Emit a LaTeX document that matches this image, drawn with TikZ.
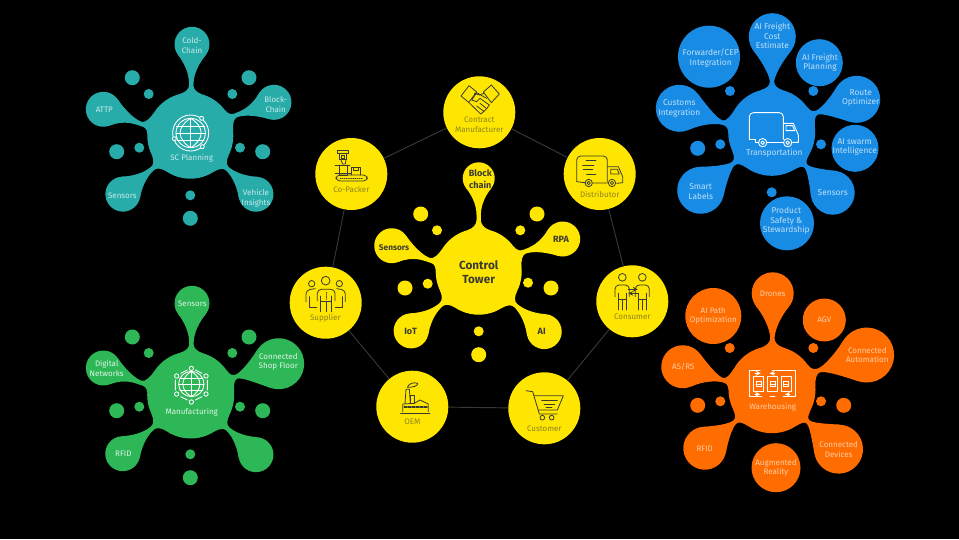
\documentclass[tikz,border=0pt]{standalone}
\usepackage{fontspec}
\setmainfont{Fira Sans}
\definecolor{ey}{HTML}{FFE600}
\definecolor{tealc}{HTML}{27ACAA}
\definecolor{greenc}{HTML}{2DB757}
\definecolor{bluec}{HTML}{188CE5}
\definecolor{orangec}{HTML}{FF6D00}
\definecolor{ink}{HTML}{3A3A32}
\definecolor{ringt}{HTML}{8C8420}
\newcommand{\arm}[8][0]{%
  \pgfmathsetmacro{\armang}{atan2(-(#7-#4),#6-#3)}%
  \pgfmathsetmacro{\armd}{veclen(#6-#3,#7-#4)}%
  \pgfmathsetmacro{\armgap}{\armd-#5-#8}%
  \pgfmathsetmacro{\sxx}{#5*cos(15)}%
  \pgfmathsetmacro{\syy}{#5*sin(15)}%
  \pgfmathsetmacro{\wxx}{#5+0.24*\armgap}%
  \pgfmathsetmacro{\pxx}{\armd+#8*cos(128)}%
  \pgfmathsetmacro{\pyy}{#8*sin(128)}%
  \pgfmathsetmacro{\sk}{0.55*\armgap}%
  \pgfmathsetmacro{\kk}{0.2*\armgap}%
  \begin{scope}[shift={(#3,#4)},rotate=\armang]
    \fill[#2] (\sxx,\syy) .. controls (\sxx+2,\syy-6) and (\wxx-3.5,#1+2.2) .. (\wxx,#1+2.2)
      .. controls (\wxx+\kk,#1+2.2) and (\pxx-.788*\sk,\pyy-.616*\sk) .. (\pxx,\pyy)
      -- (\pxx,-\pyy)
      .. controls (\pxx-.788*\sk,-\pyy+.616*\sk) and (\wxx+\kk,#1-2.2) .. (\wxx,#1-2.2)
      .. controls (\wxx-3.5,#1-2.2) and (\sxx+2,-\syy+6) .. (\sxx,-\syy) -- cycle;
    \fill[#2] (\armd,0) circle[radius=#8];
  \end{scope}}
\newcommand{\blobdot}[4]{\fill[#1] (#2,#3) circle[radius=#4];}
\tikzset{
  ringnode/.style={circle,fill=ey,draw=none,minimum size=54pt,inner sep=0pt},
  ringline/.style={draw=white!22!black,line width=.7pt},
  ringtxt/.style={text=ringt,font=\fontsize{6}{7.2}\selectfont,align=center,inner sep=0pt},
  tealtxt/.style={text=white!75!tealc,font=\fontsize{6}{7.2}\selectfont,align=center,inner sep=0pt},
  greentxt/.style={text=white!85!greenc,font=\fontsize{6}{7.2}\selectfont,align=center,inner sep=0pt},
  bluetxt/.style={text=white!72!bluec,font=\fontsize{6.3}{7.2}\selectfont,align=center,inner sep=0pt},
  orangetxt/.style={text=white!65!orangec,font=\fontsize{6}{7.2}\selectfont,align=center,inner sep=0pt},
  yellowtxt/.style={text=ink,font=\fontsize{6.8}{9}\selectfont\bfseries,align=center,inner sep=0pt},
  towertxt/.style={text=ink,font=\fontsize{8.8}{11}\selectfont\bfseries,align=center,inner sep=0pt},
  iconink/.style={draw=ink,line width=.6pt,line join=round,line cap=round},
  iconwhite/.style={draw=white,line width=.65pt,line join=round,line cap=round},
  zoomgrid/.style={x=.25pt,y=-.25pt},
}
\begin{document}
\begin{tikzpicture}[x=.75pt,y=-.75pt]
\useasboundingbox (0,0) rectangle (959,539);
\fill[black] (0,0) rectangle (959,539);

% ---- ring of partners
\node[ringnode] (contract) at (479.3,112.3) {};
\node[ringnode] (copacker) at (351.3,174) {};
\node[ringnode] (distributor) at (599.7,174) {};
\node[ringnode] (supplier) at (325.7,302.7) {};
\node[ringnode] (consumer) at (632.3,301.3) {};
\node[ringnode] (oem) at (412.3,406.7) {};
\node[ringnode] (customer) at (544.3,408.3) {};
\draw[ringline] (contract) -- (distributor);
\draw[ringline] (distributor) -- (consumer);
\draw[ringline] (consumer) -- (customer);
\draw[ringline] (customer) -- (oem);
\draw[ringline] (oem) -- (supplier);
\draw[ringline] (supplier) -- (copacker);
\draw[ringline] (copacker) -- (contract);

\node[ringtxt] (tcontract) at (479.3,125) {Contract\\Manufacturer};
\node[ringtxt] (tcopacker) at (351.3,189.3) {Co-Packer};
\node[ringtxt] (tdistributor) at (599.7,194) {Distributor};
\node[ringtxt] (tsupplier) at (325.3,318.7) {Supplier};
\node[ringtxt] (tconsumer) at (632.3,317) {Consumer};
\node[ringtxt] (toem) at (412.3,422) {OEM};
\node[ringtxt] (tcustomer) at (544.3,428.3) {Customer};

% ---- control tower blob
\arm{ey}{478.7}{271.7}{43}{478.7}{178.3}{16}
\arm[-3]{ey}{478.7}{271.7}{43}{391.7}{245.7}{17.5}
\arm[-2]{ey}{478.7}{271.7}{43}{562.7}{239}{17.5}
\arm{ey}{478.7}{271.7}{43}{411}{331}{17.5}
\arm{ey}{478.7}{271.7}{43}{544.3}{331.7}{17.5}
\fill[ey] (478.7,271.7) circle[radius=43];
\blobdot{ey}{420.7}{214}{7.5}\blobdot{ey}{437}{230.3}{5}
\blobdot{ey}{537}{214}{7.5}\blobdot{ey}{520.3}{230.3}{5}
\blobdot{ey}{405}{288}{7.5}\blobdot{ey}{427.7}{283.7}{5}
\blobdot{ey}{551}{288}{7.5}\blobdot{ey}{528}{282.7}{5}
\blobdot{ey}{478.7}{331.3}{5}\blobdot{ey}{478.7}{354.7}{7.5}
\node[towertxt] (ttower) at (478.7,272) {Control\\Tower};
\node[yellowtxt] (ty1) at (480.3,179.3) {Block\\chain};
\node[yellowtxt,font=\fontsize{6.2}{9}\selectfont\bfseries] (ty2) at (394,247.7) {Sensors};
\node[yellowtxt] (ty3) at (561,239.7) {RPA};
\node[yellowtxt] (ty4) at (410.7,331) {IoT};
\node[yellowtxt] (ty5) at (541.7,331.7) {AI};

% ---- SC planning blob
\arm{tealc}{190.3}{135.7}{43}{192}{44.3}{17.5}
\arm[-3]{tealc}{190.3}{135.7}{43}{103.3}{109.3}{17.5}
\arm[-2]{tealc}{190.3}{135.7}{43}{274}{102.3}{17.5}
\arm{tealc}{190.3}{135.7}{43}{122.7}{194.3}{17.5}
\arm{tealc}{190.3}{135.7}{43}{256}{194.3}{17.5}
\fill[tealc] (190.3,135.7) circle[radius=43];
\blobdot{tealc}{132.3}{77.7}{7.5}\blobdot{tealc}{148.7}{94}{5}
\blobdot{tealc}{249}{77.7}{7.5}\blobdot{tealc}{232.3}{94}{5}
\blobdot{tealc}{116.7}{151.7}{7.5}\blobdot{tealc}{139.3}{147.7}{5}
\blobdot{tealc}{262.7}{151.7}{7.5}\blobdot{tealc}{240}{147.7}{5}
\blobdot{tealc}{190.3}{195.3}{5}\blobdot{tealc}{190.3}{218.3}{7.5}
\node[tealtxt] (tt1) at (192,45.3) {Cold-\\Chain};
\node[tealtxt] (tt2) at (104.3,110) {ATTP};
\node[tealtxt] (tt3) at (275.7,104.3) {Block-\\Chain};
\node[tealtxt] (tt4) at (122.3,196) {Sensors};
\node[tealtxt] (tt5) at (256,198.3) {Vehicle\\Insights};
\node[tealtxt] (tt6) at (191.7,158.7) {SC Planning};

% ---- manufacturing blob
\arm{greenc}{190.7}{395}{43.5}{192}{303.3}{17.5}
\arm[-3]{greenc}{190.7}{395}{43.5}{103.3}{368}{17.5}
\arm[-2]{greenc}{190.7}{395}{43.5}{278.7}{363.7}{25.5}
\arm{greenc}{190.7}{395}{43.5}{122.7}{453.7}{17.5}
\arm{greenc}{190.7}{395}{43.5}{256}{454.7}{17.5}
\fill[greenc] (190.7,395) circle[radius=43.5];
\blobdot{greenc}{132.3}{337}{7.5}\blobdot{greenc}{148.7}{353}{5}
\blobdot{greenc}{249}{337}{7.5}\blobdot{greenc}{232.3}{353}{5}
\blobdot{greenc}{116.7}{410.7}{7.5}\blobdot{greenc}{139.3}{406.7}{5}
\blobdot{greenc}{262.7}{410.7}{7.5}\blobdot{greenc}{240}{406.7}{5}
\blobdot{greenc}{190.3}{454.3}{5}\blobdot{greenc}{190.3}{477.7}{7.5}
\node[greentxt] (tg1) at (192.3,303.3) {Sensors};
\node[greentxt] (tg2) at (106.7,368.3) {Digital\\Networks};
\node[greentxt] (tg3) at (278.3,361.7) {Connected\\Shop Floor};
\node[greentxt] (tg4) at (123.3,454) {RFID};
\node[greentxt] (tg5) at (191.7,412.3) {Manufacturing};

% ---- transportation blob
\arm{bluec}{771.7}{132.3}{43.5}{772.3}{36.7}{23.5}
\arm[-3]{bluec}{771.7}{132.3}{43.5}{679.3}{108.3}{23.5}
\arm[-2]{bluec}{771.7}{132.3}{43.5}{856.7}{99.3}{23.5}
\arm{bluec}{771.7}{132.3}{43.5}{700.7}{190.3}{23.5}
\arm{bluec}{771.7}{132.3}{43.5}{832.7}{192.7}{22}
\fill[bluec] (771.7,132.3) circle[radius=43.5];
\blobdot{bluec}{709}{56.7}{31}\blobdot{bluec}{819.3}{62.7}{23.5}
\blobdot{bluec}{855}{148.3}{23.5}\blobdot{bluec}{787}{223.3}{27}
\blobdot{bluec}{730}{91}{5}\blobdot{bluec}{813.3}{91}{5}
\blobdot{bluec}{821}{144.3}{5}\blobdot{bluec}{697.7}{148.3}{7.5}
\blobdot{bluec}{720.3}{144.3}{5}\blobdot{bluec}{771.7}{192.3}{5}
\node[bluetxt] (tb1) at (772.3,36) {AI Freight\\Cost\\Estimate};
\node[bluetxt] (tb2) at (710.7,58.3) {Forwarder/CEP\\Integration};
\node[bluetxt] (tb3) at (820,62.7) {AI Freight\\Planning};
\node[bluetxt] (tb4) at (860.7,98) {Route\\Optimizer};
\node[bluetxt] (tb5) at (679.3,108.7) {Customs\\Integration};
\node[bluetxt] (tb6) at (854.7,147) {AI swarm\\Intelligence};
\node[bluetxt] (tb7) at (832.7,193) {Sensors};
\node[bluetxt] (tb8) at (700.7,191.7) {Smart\\Labels};
\node[bluetxt] (tb9) at (786.3,221) {Product\\Safety \&\\Stewardship};
\node[bluetxt] (tb10) at (774.3,153.3) {Transportation};

% ---- warehousing blob
\arm{orangec}{772}{389.7}{43.5}{772.7}{293.3}{21}
\arm[-3]{orangec}{772}{389.7}{43.5}{682.7}{366.7}{21.5}
\arm[-2]{orangec}{772}{389.7}{43.5}{866.7}{355}{27.5}
\arm{orangec}{772}{389.7}{43.5}{704.7}{448.3}{21.5}
\arm{orangec}{772}{389.7}{43.5}{838.7}{449.3}{24.5}
\fill[orangec] (772,389.7) circle[radius=43.5];
\blobdot{orangec}{713.3}{316}{28}\blobdot{orangec}{824.3}{320}{21.5}
\blobdot{orangec}{776}{467.7}{24.5}
\blobdot{orangec}{729.7}{348}{5}\blobdot{orangec}{813.3}{348}{5}
\blobdot{orangec}{697.7}{405.3}{7.5}\blobdot{orangec}{720.3}{401.3}{5}
\blobdot{orangec}{843.7}{405.3}{7.5}\blobdot{orangec}{821}{401.3}{5}
\node[orangetxt] (to1) at (772.7,294) {Drones};
\node[orangetxt] (to2) at (713.3,316) {AI Path\\Optimization};
\node[orangetxt] (to3) at (824.3,320) {AGV};
\node[orangetxt] (to4) at (867.3,355) {Connected\\Automation};
\node[orangetxt] (to5) at (683.3,367) {AS/RS};
\node[orangetxt] (to6) at (704.7,449) {RFID};
\node[orangetxt] (to7) at (838.7,449.3) {Connected\\Devices};
\node[orangetxt] (to8) at (776,468) {Augmented\\Reality};
\node[orangetxt] (to9) at (772.7,407.3) {Warehousing};

% ---- icons on the yellow ring (zoom grid 1)
\begin{scope}[shift={(290,70)},zoomgrid,iconink]
  % handshake
  \draw (513,78) -- (537,47) -- (560,66) -- (536,97) -- cycle;
  \draw (628,72) -- (604,45) -- (580,66) -- (604,98) -- cycle;
  \draw (553,70) -- (568,75) -- (582,70);
  \draw (590,85) -- (560,68) -- (545,90) -- (560,95) -- (570,85) -- (598,105);
  \draw (536,97) -- (572,132) -- (582,124) -- (560,108);
  \draw (582,124) -- (590,116) -- (570,100);
  \draw (590,116) -- (598,105);
  % co-packer
  \draw[rounded corners=3pt] (138,315) rectangle (232,333);
  \draw[densely dotted] (150,324) -- (220,324);
  \draw (183,315) -- (183,293) -- (212,293) -- (212,315);
  \draw (190,293) -- (190,302) -- (205,302) -- (205,293);
  \draw (142,242) rectangle (175,250);
  \draw (148,250) rectangle (170,268);
  \draw (155,255) rectangle (164,264);
  \draw (152,268) -- (158,282) -- (166,282) -- (168,268);
  \draw (135,285) -- (180,285);
  \draw (147,285) -- (147,315) -- (172,315) -- (172,285);
  \draw (135,310) -- (183,310);
  % distributor truck
  \draw[rounded corners=3pt] (860,335) -- (860,258) -- (952,258) -- (952,335);
  \draw (888,272) -- (918,272) (878,285) -- (912,285) (880,298) -- (908,298) (890,313) -- (918,313);
  \draw (952,290) -- (985,290) -- (998,320) -- (998,338) -- (980,340);
  \draw (962,298) -- (982,298) -- (988,312) -- (962,312) -- cycle;
  \draw (860,335) -- (884,338) (908,339) -- (954,339);
  \draw (896,339) circle[radius=11] (896,339) circle[radius=5];
  \draw (966,339) circle[radius=11] (966,339) circle[radius=5];
\end{scope}
\begin{scope}[shift={(290,260)},zoomgrid,iconink]
  % supplier
  \draw (107,62) circle[radius=13];
  \draw (65,71) circle[radius=9.5] (148,71) circle[radius=9.5];
  \draw[rounded corners=3pt] (82,122) -- (82,88) -- (135,88) -- (135,122);
  \draw (92,155) -- (92,108) (124,155) -- (124,108) (108,155) -- (108,125);
  \draw[densely dotted] (108,97) -- (108,118);
  \draw (92,125) -- (124,125);
  \draw[rounded corners=3pt] (48,125) -- (48,90) -- (76,86);
  \draw[rounded corners=3pt] (166,125) -- (166,90) -- (140,86);
  \draw (58,110) -- (58,142) -- (80,142);
  \draw (156,110) -- (156,142) -- (136,142);
  % consumer
  \draw (997,52) circle[radius=11.5] (1057,52) circle[radius=11.5];
  \draw[rounded corners=3pt] (975,110) -- (975,75) -- (1018,75) -- (1018,110);
  \draw (985,150) -- (985,100) (1008,150) -- (1008,100) (997,150) -- (997,118);
  \draw (985,118) -- (1008,118);
  \draw[rounded corners=3pt] (1036,110) -- (1036,75) -- (1078,75) -- (1078,110);
  \draw (1046,150) -- (1046,100) (1068,150) -- (1068,100) (1057,150) -- (1057,118);
  \draw (1046,118) -- (1068,118);
  \draw[-stealth] (1015,88) -- (1043,88);
  \draw[-stealth] (1043,100) -- (1015,100);
  % OEM
  \draw (345,430) -- (348,388) -- (358,388) -- (361,430);
  \draw (352,382) .. controls (355,372) and (370,365) .. (383,370) .. controls (385,378) and (368,382) .. (352,382) -- cycle;
  \draw (361,430) -- (361,405) -- (373,405) -- (373,430);
  \draw (338,455) -- (338,432) -- (373,430) -- (390,420) -- (415,432) -- (415,455);
  \draw[dash pattern=on 2pt off 1pt,line width=1.3pt] (343,442) -- (412,442);
  \draw (332,460) -- (420,460);
  % cart
  \draw (708,392) -- (728,395) -- (748,462) -- (802,462);
  \draw (732,407) -- (820,407) -- (802,450) -- (745,450);
  \draw (755,420) -- (802,420) (762,432) -- (794,432) (768,442) -- (786,442);
  \draw (757,473) circle[radius=7] (785,473) circle[radius=7];
\end{scope}
% ---- white icons
\begin{scope}[shift={(70,15)},zoomgrid,iconwhite]
  \draw (362,354) circle[radius=54] (362,354) circle[radius=44];
  \draw (362,310) -- (362,398);
  \draw (362,310) .. controls (320,335) and (320,373) .. (362,398);
  \draw (362,310) .. controls (404,335) and (404,373) .. (362,398);
  \draw (320,335) -- (404,335) (318,354) -- (406,354) (322,375) -- (402,375);
  \filldraw[fill=tealc,draw=white] (395,310) circle[radius=6] (313,371) circle[radius=6] (397,395) circle[radius=6];
\end{scope}
\begin{scope}[shift={(70,280)},zoomgrid,iconwhite]
  \draw (364,312) circle[radius=38];
  \draw (364,274) -- (364,350);
  \draw (364,274) .. controls (330,295) and (330,330) .. (364,350);
  \draw (364,274) .. controls (398,295) and (398,330) .. (364,350);
  \draw (330,295) -- (398,295) (326,312) -- (402,312) (330,330) -- (398,330);
  \draw (364,265) circle[radius=6.5] (408,288) circle[radius=6.5] (408,342) circle[radius=6.5];
  \draw (364,366) circle[radius=6.5] (320,342) circle[radius=6.5] (320,288) circle[radius=6.5];
  \draw (332,280) -- (352,270) (376,270) -- (396,280) (412,300) -- (412,330);
  \draw (396,350) -- (376,360) (352,360) -- (332,350) (316,330) -- (316,300);
\end{scope}
\begin{scope}[shift={(650,10)},zoomgrid,iconwhite]
  \draw[rounded corners=3pt] (298,388) -- (298,308) -- (400,308) -- (400,388);
  \draw (400,340) -- (430,340) -- (445,375) -- (445,397) -- (428,397);
  \draw (408,347) -- (428,347) -- (434,362) -- (408,362) -- cycle;
  \draw (298,388) -- (315,388) -- (315,398) -- (325,398) (352,398) -- (400,398);
  \draw (338,398) circle[radius=12.5] (338,398) circle[radius=5.5];
  \draw (413,398) circle[radius=12.5] (413,398) circle[radius=5.5];
\end{scope}
\begin{scope}[shift={(655,265)},zoomgrid,iconwhite]
  \draw (283,395) -- (283,317) -- (315,317);
  \draw[-stealth] (300,325) -- (317,325);
  \draw[-stealth] (360,325) -- (344,325);
  \draw (352,317) -- (420,317) -- (420,395) -- (385,395);
  \draw (283,395) -- (320,395);
  \draw (295,335) rectangle (325,380);
  \draw (337,335) rectangle (367,380);
  \draw (378,335) rectangle (408,380);
  \draw (303,350) rectangle (318,365) (303,357) -- (318,357);
  \draw (345,350) rectangle (360,365) (345,357) -- (360,357);
  \draw (386,350) rectangle (401,365) (386,357) -- (401,357);
  \draw[-stealth] (300,388) -- (315,388);
  \draw[-stealth] (405,388) -- (390,388);
  \draw (345,395) -- (360,395);
\end{scope}
\end{tikzpicture}
\end{document}
